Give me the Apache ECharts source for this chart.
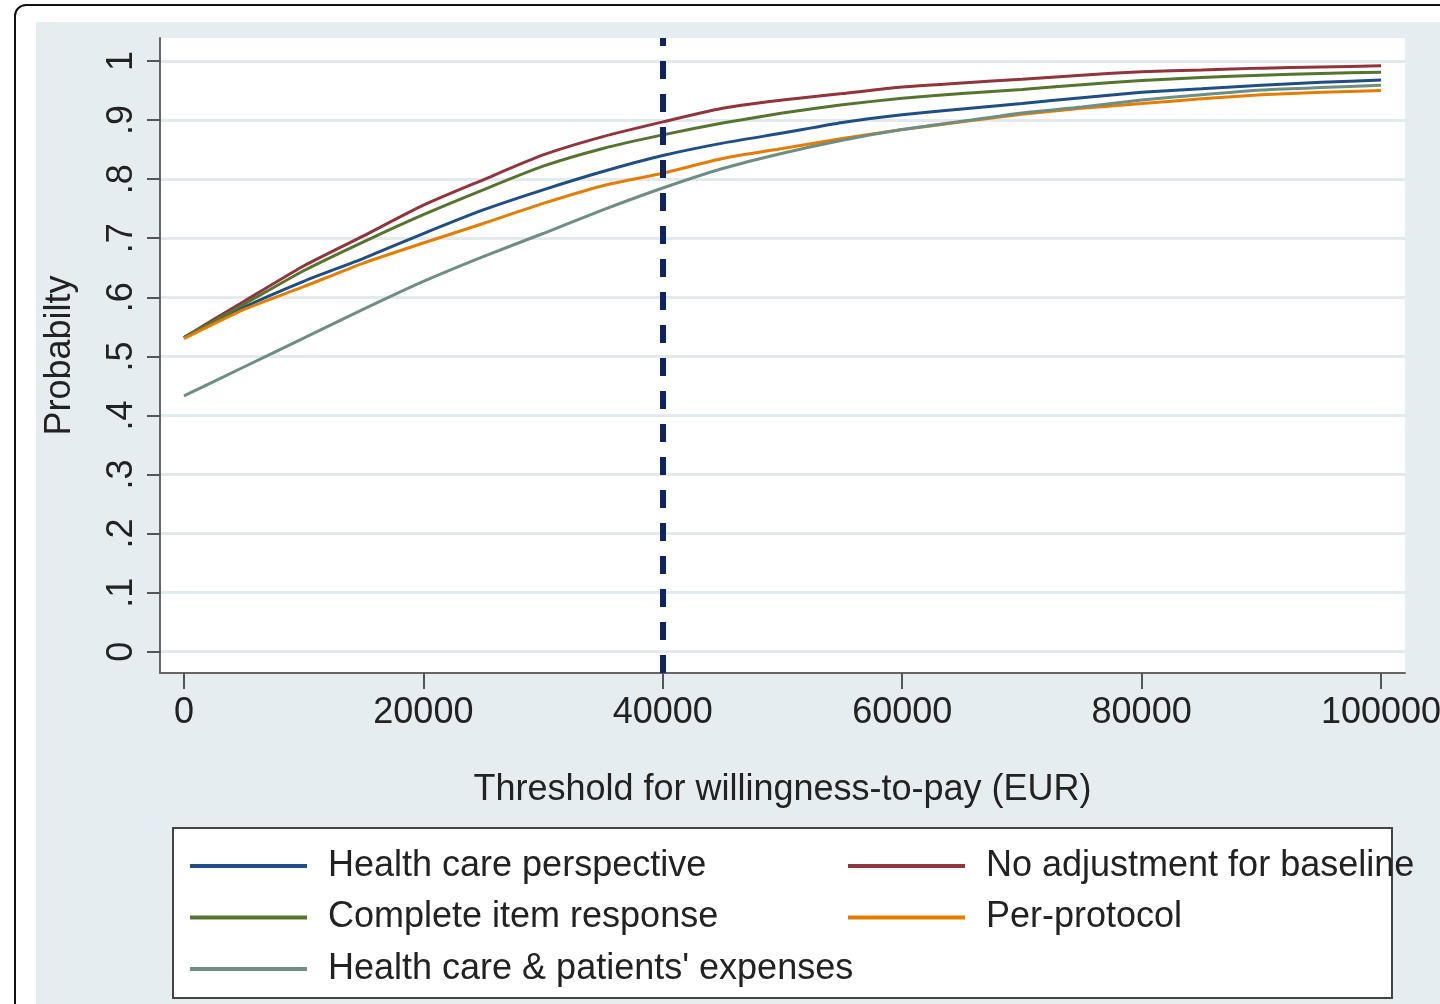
<!DOCTYPE html>
<html>
<head>
<meta charset="utf-8">
<script src="https://cdn.jsdelivr.net/npm/echarts@6/dist/echarts.min.js"></script>
<style>
  html, body { margin: 0; padding: 0; width: 1440px; height: 1004px; overflow: hidden; background: #ffffff; }
  #frame { position: absolute; left: 14px; top: 4px; width: 1500px; height: 1100px; border: 2px solid #111; border-radius: 12px; box-sizing: border-box; }
  #region { position: absolute; left: 36px; top: 22px; right: 0; bottom: 0; background: #e6edf0; }
  #chart { position: absolute; left: 0; top: 0; width: 1440px; height: 1004px; }
</style>
</head>
<body>
<div id="frame"></div>
<div id="region"></div>
<div id="chart"></div>
<script>
// ---- data ----
const thresholds = [0, 5000, 10000, 15000, 20000, 25000, 30000, 35000, 40000, 45000, 50000,
                    55000, 60000, 65000, 70000, 75000, 80000, 85000, 90000, 95000, 100000];
const healthCarePerspective = [0.532, 0.583, 0.627, 0.666, 0.708, 0.748, 0.782, 0.813, 0.840, 0.861, 0.878,
                               0.896, 0.909, 0.919, 0.928, 0.938, 0.947, 0.953, 0.959, 0.964, 0.968];
const noAdjustmentBaseline = [0.532, 0.593, 0.653, 0.704, 0.756, 0.799, 0.841, 0.872, 0.897, 0.920, 0.934,
                              0.945, 0.956, 0.963, 0.969, 0.976, 0.982, 0.985, 0.988, 0.990, 0.992];
const completeItemResponse = [0.532, 0.588, 0.645, 0.694, 0.740, 0.782, 0.822, 0.852, 0.875, 0.895, 0.912,
                              0.926, 0.937, 0.945, 0.952, 0.960, 0.967, 0.972, 0.976, 0.979, 0.981];
const perProtocol = [0.530, 0.579, 0.618, 0.658, 0.692, 0.725, 0.759, 0.789, 0.810, 0.835, 0.852,
                     0.869, 0.884, 0.897, 0.910, 0.920, 0.928, 0.936, 0.943, 0.947, 0.950];
const healthCarePatients = [0.433, 0.482, 0.531, 0.580, 0.627, 0.669, 0.708, 0.748, 0.785, 0.818, 0.844,
                            0.866, 0.884, 0.898, 0.912, 0.922, 0.934, 0.943, 0.951, 0.955, 0.959];
const yTicks = [0, 0.1, 0.2, 0.3, 0.4, 0.5, 0.6, 0.7, 0.8, 0.9, 1];
const yTickLabels = ['0', '.1', '.2', '.3', '.4', '.5', '.6', '.7', '.8', '.9', '1'];
const xTicks = [0, 20000, 40000, 60000, 80000, 100000];
const wtpReference = 40000;

const names = {
  hcp: 'Health care perspective',
  noadj: 'No adjustment for baseline',
  cir: 'Complete item response',
  pp: 'Per-protocol',
  hcpe: "Health care & patients' expenses"
};

function pairs(arr) { return thresholds.map((x, i) => [x, arr[i]]); }

const FONT = 'Liberation Sans, Arial, sans-serif';
const chart = echarts.init(document.getElementById('chart'));

function lineSeries(name, data, color, extra) {
  return Object.assign({
    name: name, type: 'line', data: pairs(data), showSymbol: false, symbol: 'none',
    lineStyle: { color: color, width: 3 }, itemStyle: { color: color },
    smooth: 0.2, silent: true, z: 3
  }, extra || {});
}

const legendText = { fontFamily: FONT, fontSize: 36, color: '#222', lineHeight: 40, padding: [0, 0, 0, 16] };

chart.setOption({
  animation: false,
  grid: { left: 160, right: 35, top: 38, bottom: 331, show: true, backgroundColor: '#ffffff', borderWidth: 0,
          containLabel: false, outerBoundsMode: 'none' },
  xAxis: {
    type: 'value', min: -2000, max: 102000,
    name: 'Threshold for willingness-to-pay (EUR)', nameLocation: 'middle', nameGap: 99,
    nameTextStyle: { fontFamily: FONT, fontSize: 36, color: '#222' },
    axisLine: { show: true, onZero: false, lineStyle: { color: '#666', width: 2 } },
    axisTick: { show: true, length: 16, customValues: xTicks, lineStyle: { color: '#555', width: 2 } },
    axisLabel: { customValues: xTicks, margin: 22, fontFamily: FONT, fontSize: 36, color: '#222',
                 formatter: v => String(v) },
    splitLine: { show: false }
  },
  yAxis: {
    type: 'value', min: -0.036, max: 1.039,
    name: 'Probabilty', nameLocation: 'middle', nameGap: 82, nameRotate: 90,
    nameTextStyle: { fontFamily: FONT, fontSize: 36, color: '#222' },
    axisLine: { show: true, onZero: false, lineStyle: { color: '#666', width: 2 } },
    axisTick: { show: true, length: 13, customValues: yTicks, lineStyle: { color: '#555', width: 2 } },
    axisLabel: { customValues: yTicks, rotate: 90, margin: 20, fontFamily: FONT, fontSize: 36, color: '#222',
                 formatter: v => { const i = yTicks.findIndex(t => Math.abs(t - v) < 1e-6); return i >= 0 ? yTickLabels[i] : ''; } },
    splitLine: { show: true, lineStyle: { color: '#e3eaee', width: 3 } }
  },
  legend: [
    { data: [names.hcp, names.cir, names.hcpe], orient: 'vertical', left: 190, top: 846, padding: 0,
      icon: 'rect', itemWidth: 117, itemHeight: 4, itemGap: 11.5, textStyle: legendText, selectedMode: false },
    { data: [names.noadj, names.pp], orient: 'vertical', left: 848, top: 846, padding: 0,
      icon: 'rect', itemWidth: 117, itemHeight: 4, itemGap: 11.5, textStyle: legendText, selectedMode: false }
  ],
  graphic: [
    { type: 'rect', z: 1, shape: { x: 173, y: 828, width: 1219, height: 170 },
      style: { fill: '#ffffff', stroke: '#444', lineWidth: 2 } }
  ],
  series: [
    lineSeries(names.hcp, healthCarePerspective, '#1f4e85', {
      markLine: {
        silent: true, symbol: 'none', label: { show: false }, animation: false,
        lineStyle: { color: '#0c2461', width: 6, type: [18, 15] },
        data: [{ xAxis: wtpReference }]
      }
    }),
    lineSeries(names.noadj, noAdjustmentBaseline, '#90353b'),
    lineSeries(names.cir, completeItemResponse, '#55752f'),
    lineSeries(names.pp, perProtocol, '#e37e00'),
    lineSeries(names.hcpe, healthCarePatients, '#6e8e84')
  ]
});
</script>
</body>
</html>
